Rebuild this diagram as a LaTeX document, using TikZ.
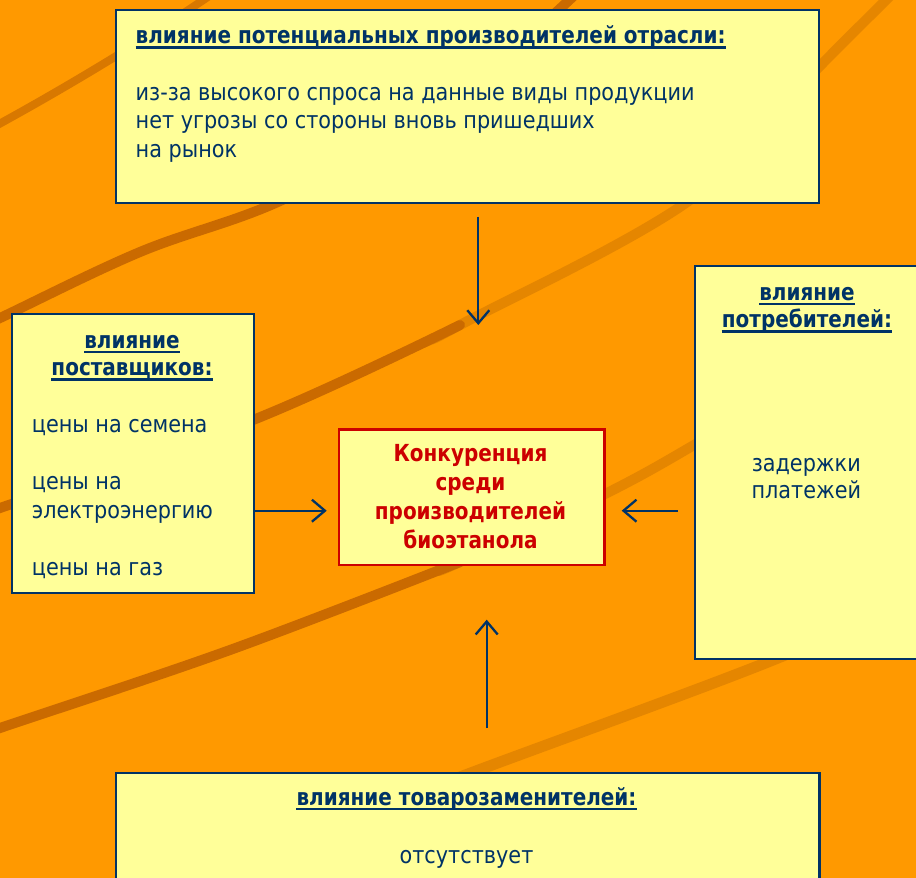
\documentclass[tikz,border=0pt]{standalone}
\usepackage{fontspec}
\setmainfont[FakeStretch=0.885, BoldFeatures={FakeStretch=0.85}]{DejaVu Sans}
\usetikzlibrary{arrows.meta}
\definecolor{bg}{RGB}{255,153,0}
\definecolor{stripeD}{RGB}{202,106,0}
\definecolor{stripeM}{RGB}{216,120,0}
\definecolor{stripeL}{RGB}{229,134,0}
\definecolor{tblue}{RGB}{0,51,102}
\definecolor{fillY}{RGB}{255,255,153}
\definecolor{cred}{RGB}{204,0,0}
\begin{document}
\begin{tikzpicture}[x=1pt,y=-1pt,
 box/.style={draw=tblue, fill=fillY, line width=2.3pt, inner sep=0pt, anchor=north west},
 redbox/.style={draw=cred, fill=fillY, line width=2.3pt, inner sep=0pt, anchor=north west},
 txt/.style={inner sep=0pt, text=tblue, font=\fontsize{23.5}{28}\selectfont},
 head/.style={inner sep=0pt, text=tblue, font=\fontsize{23.5}{28}\selectfont\bfseries},
 ctr/.style={inner sep=0pt, text=cred, font=\fontsize{23.5}{28}\selectfont\bfseries, anchor=base},
 ul/.style={draw=tblue, line width=2.6pt},
 arr/.style={draw=tblue, line width=2.3pt, -{Straight Barb[length=13pt,width=22pt]}},
 stripe/.style={line width=10pt, line cap=round}
]
\useasboundingbox (0,0) rectangle (916,878);
\clip (0,0) rectangle (916,878);
\fill[bg] (0,0) rectangle (916,878);
% background stripes
\draw[stripe, stripeM, line width=8pt] (-10,129) .. controls (80,80) and (160,30) .. (215,-8);
\draw[stripe, stripeD] plot[smooth, tension=0.6] coordinates {(-20,326) (0,318) (140,252) (280,201) (430,120) (580,-10)};
\draw[stripe, stripeL] plot[smooth, tension=0.6] coordinates {(440,335) (460,325) (690,200) (819,67) (886,0) (900,-15)};
\draw[stripe, stripeD] plot[smooth, tension=0.6] coordinates {(-10,512) (0,508) (253,420) (460,325)};
\draw[stripe, stripeL] plot[smooth, tension=0.6] coordinates {(440,570) (460,562) (603,495) (694,445) (800,380)};
\draw[stripe, stripeD] plot[smooth, tension=0.6] coordinates {(-10,732) (0,728) (230,650) (460,562)};
\draw[stripe, stripeL, line width=11pt] plot[smooth, tension=0.6] coordinates {(400,800) (476,771) (773,660) (900,600)};

% top box
\node[box, minimum width=703pt, minimum height=193pt] (pot) at (115,9) {};
\node[head, anchor=base west] (potH) at (135.5,43.3) {влияние потенциальных производителей отрасли:};
\draw[ul] ([yshift=-4pt]potH.base west) -- ([yshift=-4pt]potH.base east);
\node[txt, anchor=base west] (pot1) at (135.5,100) {из-за высокого спроса на данные виды продукции};
\node[txt, anchor=base west] (pot2) at (135.5,128.7) {нет угрозы со стороны вновь пришедших};
\node[txt, anchor=base west] (pot3) at (135.5,157.3) {на рынок};

% left box
\node[box, minimum width=242pt, minimum height=279pt] (sup) at (11,313) {};
\node[head, anchor=base] (supH1) at (132,348) {влияние};
\draw[ul] ([yshift=-4pt]supH1.base west) -- ([yshift=-4pt]supH1.base east);
\node[head, anchor=base] (supH2) at (132,375.5) {поставщиков:};
\draw[ul] ([yshift=-4pt]supH2.base west) -- ([yshift=-4pt]supH2.base east);
\node[txt, anchor=base west] (sup1) at (31.7,432.7) {цены на семена};
\node[txt, anchor=base west] (sup2) at (31.7,489.5) {цены на};
\node[txt, anchor=base west] (sup3) at (31.7,518) {электроэнергию};
\node[txt, anchor=base west] (sup4) at (31.7,575.5) {цены на газ};

% center box
\node[redbox, minimum width=265.6pt, minimum height=135.7pt] (comp) at (337.7,428.3) {};
\node[ctr] (comp1) at (470.5,461.7) {Конкуренция};
\node[ctr] (comp2) at (470.5,490) {среди};
\node[ctr] (comp3) at (470.5,519.3) {производителей};
\node[ctr] (comp4) at (470.5,548.3) {биоэтанола};

% right box
\node[box, minimum width=226.5pt, minimum height=393.5pt] (cons) at (693.5,264.5) {};
\node[head, anchor=base] (consH1) at (807,300) {влияние};
\draw[ul] ([yshift=-4pt]consH1.base west) -- ([yshift=-4pt]consH1.base east);
\node[head, anchor=base] (consH2) at (807,327.5) {потребителей:};
\draw[ul] ([yshift=-4pt]consH2.base west) -- ([yshift=-4pt]consH2.base east);
\node[txt, anchor=base] (cons1) at (806.3,471.7) {задержки};
\node[txt, anchor=base] (cons2) at (806.3,498.3) {платежей};

% bottom box
\node[box, minimum width=703.3pt, minimum height=130pt] (subs) at (115,772) {};
\node[head, anchor=base] (subsH) at (466.5,805) {влияние товарозаменителей:};
\draw[ul] ([yshift=-4pt]subsH.base west) -- ([yshift=-4pt]subsH.base east);
\node[txt, anchor=base] (subs1) at (466.5,863) {отсутствует};

% arrows
\coordinate (aTs) at (478.3,216.7);
\coordinate (aTe) at (478.3,325);
\coordinate (aBs) at (486.7,728);
\coordinate (aBe) at (486.7,619.7);
\coordinate (aLs) at (255,510.7);
\coordinate (aLe) at (326.7,510.7);
\coordinate (aRs) at (677.7,510.7);
\coordinate (aRe) at (621.7,510.7);
\draw[arr] (aTs) -- (aTe);
\draw[arr] (aBs) -- (aBe);
\draw[arr] (aLs) -- (aLe);
\draw[arr] (aRs) -- (aRe);
\end{tikzpicture}
\end{document}
